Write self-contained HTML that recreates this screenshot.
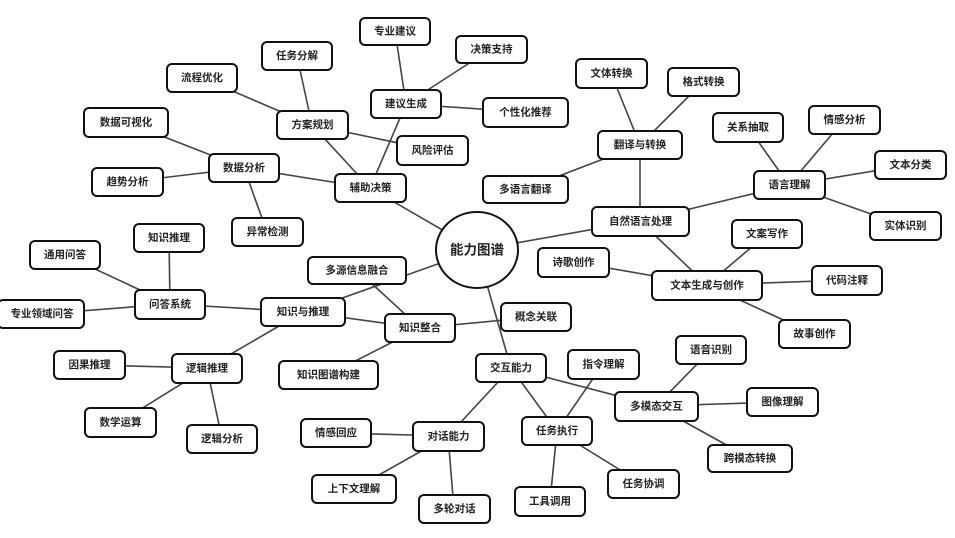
<!DOCTYPE html>
<html><head><meta charset="utf-8"><style>
html,body{margin:0;padding:0;background:#fff;}
svg{display:block;}
text{font-family:"Liberation Sans","Noto Sans CJK SC",sans-serif;font-size:10.5px;font-weight:bold;fill:#222;text-anchor:middle;dominant-baseline:central;}
rect{fill:#fff;stroke:#111;stroke-width:2;}
line{stroke:#444;stroke-width:1.6;}
</style></head><body>
<svg width="955" height="538" viewBox="0 0 955 538" xmlns="http://www.w3.org/2000/svg">
<g>
<line x1="477" y1="250" x2="370" y2="188"/>
<line x1="477" y1="250" x2="640" y2="221"/>
<line x1="477" y1="250" x2="303" y2="312"/>
<line x1="477" y1="250" x2="511" y2="368"/>
<line x1="370" y1="188" x2="244" y2="168"/>
<line x1="370" y1="188" x2="312" y2="125"/>
<line x1="370" y1="188" x2="406" y2="104"/>
<line x1="406" y1="104" x2="395" y2="31"/>
<line x1="406" y1="104" x2="491" y2="49"/>
<line x1="406" y1="104" x2="525" y2="112"/>
<line x1="312" y1="125" x2="297" y2="56"/>
<line x1="312" y1="125" x2="202" y2="78"/>
<line x1="312" y1="125" x2="432" y2="150"/>
<line x1="244" y1="168" x2="126" y2="122"/>
<line x1="244" y1="168" x2="127" y2="182"/>
<line x1="244" y1="168" x2="267" y2="232"/>
<line x1="640" y1="221" x2="640" y2="145"/>
<line x1="640" y1="221" x2="789" y2="185"/>
<line x1="640" y1="221" x2="707" y2="285"/>
<line x1="640" y1="145" x2="611" y2="73"/>
<line x1="640" y1="145" x2="703" y2="82"/>
<line x1="640" y1="145" x2="525" y2="189"/>
<line x1="789" y1="185" x2="748" y2="127"/>
<line x1="789" y1="185" x2="844" y2="120"/>
<line x1="789" y1="185" x2="910" y2="165"/>
<line x1="789" y1="185" x2="905" y2="226"/>
<line x1="707" y1="285" x2="767" y2="234"/>
<line x1="707" y1="285" x2="573" y2="262"/>
<line x1="707" y1="285" x2="847" y2="280"/>
<line x1="707" y1="285" x2="814" y2="334"/>
<line x1="303" y1="312" x2="170" y2="304"/>
<line x1="303" y1="312" x2="207" y2="368"/>
<line x1="303" y1="312" x2="420" y2="328"/>
<line x1="420" y1="328" x2="357" y2="270"/>
<line x1="420" y1="328" x2="536" y2="317"/>
<line x1="420" y1="328" x2="328" y2="375"/>
<line x1="170" y1="304" x2="169" y2="238"/>
<line x1="170" y1="304" x2="65" y2="255"/>
<line x1="170" y1="304" x2="42" y2="314"/>
<line x1="207" y1="368" x2="89" y2="365"/>
<line x1="207" y1="368" x2="120" y2="422"/>
<line x1="207" y1="368" x2="222" y2="439"/>
<line x1="511" y1="368" x2="448" y2="436"/>
<line x1="511" y1="368" x2="557" y2="431"/>
<line x1="511" y1="368" x2="656" y2="406"/>
<line x1="557" y1="431" x2="603" y2="364"/>
<line x1="557" y1="431" x2="550" y2="501"/>
<line x1="557" y1="431" x2="643" y2="484"/>
<line x1="656" y1="406" x2="711" y2="350"/>
<line x1="656" y1="406" x2="782" y2="402"/>
<line x1="656" y1="406" x2="750" y2="458"/>
<line x1="448" y1="436" x2="336" y2="433"/>
<line x1="448" y1="436" x2="354" y2="489"/>
<line x1="448" y1="436" x2="454" y2="509"/>
</g>
<g>
<rect x="360" y="18" width="70" height="27" rx="5"/><text x="395" y="31.5">专业建议</text>
<rect x="262" y="42" width="70" height="28" rx="5"/><text x="297" y="56">任务分解</text>
<rect x="167" y="64" width="70" height="28" rx="5"/><text x="202" y="78">流程优化</text>
<rect x="371" y="90" width="70" height="28" rx="5"/><text x="406" y="104">建议生成</text>
<rect x="277" y="111" width="71" height="28" rx="5"/><text x="312.5" y="125">方案规划</text>
<rect x="84" y="108" width="84" height="29" rx="5"/><text x="126" y="122.5">数据可视化</text>
<rect x="397" y="136" width="71" height="29" rx="5"/><text x="432.5" y="150.5">风险评估</text>
<rect x="209" y="154" width="70" height="28" rx="5"/><text x="244" y="168">数据分析</text>
<rect x="92" y="168" width="71" height="28" rx="5"/><text x="127.5" y="182">趋势分析</text>
<rect x="335" y="174" width="71" height="28" rx="5"/><text x="370.5" y="188">辅助决策</text>
<rect x="232" y="218" width="71" height="28" rx="5"/><text x="267.5" y="232">异常检测</text>
<rect x="134" y="224" width="70" height="28" rx="5"/><text x="169" y="238">知识推理</text>
<rect x="30" y="241" width="70" height="28" rx="5"/><text x="65" y="255">通用问答</text>
<rect x="456" y="36" width="71" height="27" rx="5"/><text x="491.5" y="49.5">决策支持</text>
<rect x="576" y="59" width="71" height="29" rx="5"/><text x="611.5" y="73.5">文体转换</text>
<rect x="668" y="68" width="71" height="28" rx="5"/><text x="703.5" y="82">格式转换</text>
<rect x="483" y="98" width="85" height="29" rx="5"/><text x="525.5" y="112.5">个性化推荐</text>
<rect x="713" y="113" width="70" height="29" rx="5"/><text x="748" y="127.5">关系抽取</text>
<rect x="809" y="106" width="71" height="28" rx="5"/><text x="844.5" y="120">情感分析</text>
<rect x="598" y="131" width="84" height="28" rx="5"/><text x="640" y="145">翻译与转换</text>
<rect x="875" y="151" width="71" height="28" rx="5"/><text x="910.5" y="165">文本分类</text>
<rect x="483" y="176" width="85" height="27" rx="5"/><text x="525.5" y="189.5">多语言翻译</text>
<rect x="754" y="171" width="71" height="28" rx="5"/><text x="789.5" y="185">语言理解</text>
<rect x="870" y="212" width="71" height="28" rx="5"/><text x="905.5" y="226">实体识别</text>
<rect x="592" y="207" width="97" height="29" rx="5"/><text x="640.5" y="221.5">自然语言处理</text>
<rect x="732" y="220" width="70" height="28" rx="5"/><text x="767" y="234">文案写作</text>
<rect x="538" y="248" width="71" height="29" rx="5"/><text x="573.5" y="262.5">诗歌创作</text>
<rect x="652" y="271" width="110" height="29" rx="5"/><text x="707" y="285.5">文本生成与创作</text>
<rect x="812" y="266" width="70" height="29" rx="5"/><text x="847" y="280.5">代码注释</text>
<rect x="501" y="303" width="70" height="28" rx="5"/><text x="536" y="317">概念关联</text>
<rect x="779" y="320" width="71" height="28" rx="5"/><text x="814.5" y="334">故事创作</text>
<rect x="676" y="336" width="70" height="28" rx="5"/><text x="711" y="350">语音识别</text>
<rect x="476" y="354" width="70" height="28" rx="5"/><text x="511" y="368">交互能力</text>
<rect x="568" y="350" width="71" height="29" rx="5"/><text x="603.5" y="364.5">指令理解</text>
<rect x="615" y="392" width="83" height="29" rx="5"/><text x="656.5" y="406.5">多模态交互</text>
<rect x="747" y="388" width="71" height="28" rx="5"/><text x="782.5" y="402">图像理解</text>
<rect x="522" y="417" width="70" height="28" rx="5"/><text x="557" y="431">任务执行</text>
<rect x="708" y="445" width="84" height="27" rx="5"/><text x="750" y="458.5">跨模态转换</text>
<rect x="608" y="470" width="71" height="28" rx="5"/><text x="643.5" y="484">任务协调</text>
<rect x="515" y="487" width="70" height="29" rx="5"/><text x="550" y="501.5">工具调用</text>
<rect x="308" y="257" width="98" height="27" rx="5"/><text x="357" y="270.5">多源信息融合</text>
<rect x="135" y="290" width="70" height="29" rx="5"/><text x="170" y="304.5">问答系统</text>
<rect x="-2" y="300" width="86" height="28" rx="5"/><text x="42" y="314">专业领域问答</text>
<rect x="261" y="298" width="84" height="28" rx="5"/><text x="303" y="312">知识与推理</text>
<rect x="385" y="314" width="70" height="28" rx="5"/><text x="420" y="328">知识整合</text>
<rect x="54" y="351" width="71" height="28" rx="5"/><text x="89.5" y="365">因果推理</text>
<rect x="172" y="354" width="70" height="29" rx="5"/><text x="207" y="368.5">逻辑推理</text>
<rect x="279" y="361" width="99" height="28" rx="5"/><text x="328.5" y="375">知识图谱构建</text>
<rect x="85" y="408" width="71" height="29" rx="5"/><text x="120.5" y="422.5">数学运算</text>
<rect x="187" y="425" width="70" height="28" rx="5"/><text x="222" y="439">逻辑分析</text>
<rect x="301" y="419" width="70" height="28" rx="5"/><text x="336" y="433">情感回应</text>
<rect x="413" y="422" width="71" height="29" rx="5"/><text x="448.5" y="436.5">对话能力</text>
<rect x="312" y="475" width="84" height="28" rx="5"/><text x="354" y="489">上下文理解</text>
<rect x="419" y="495" width="71" height="28" rx="5"/><text x="454.5" y="509">多轮对话</text>
<ellipse cx="477" cy="250" rx="41" ry="38" fill="#fff" stroke="#111" stroke-width="2"/>
<text x="477" y="250" style="font-size:13.5px">能力图谱</text>
</g>
</svg>
</body></html>
